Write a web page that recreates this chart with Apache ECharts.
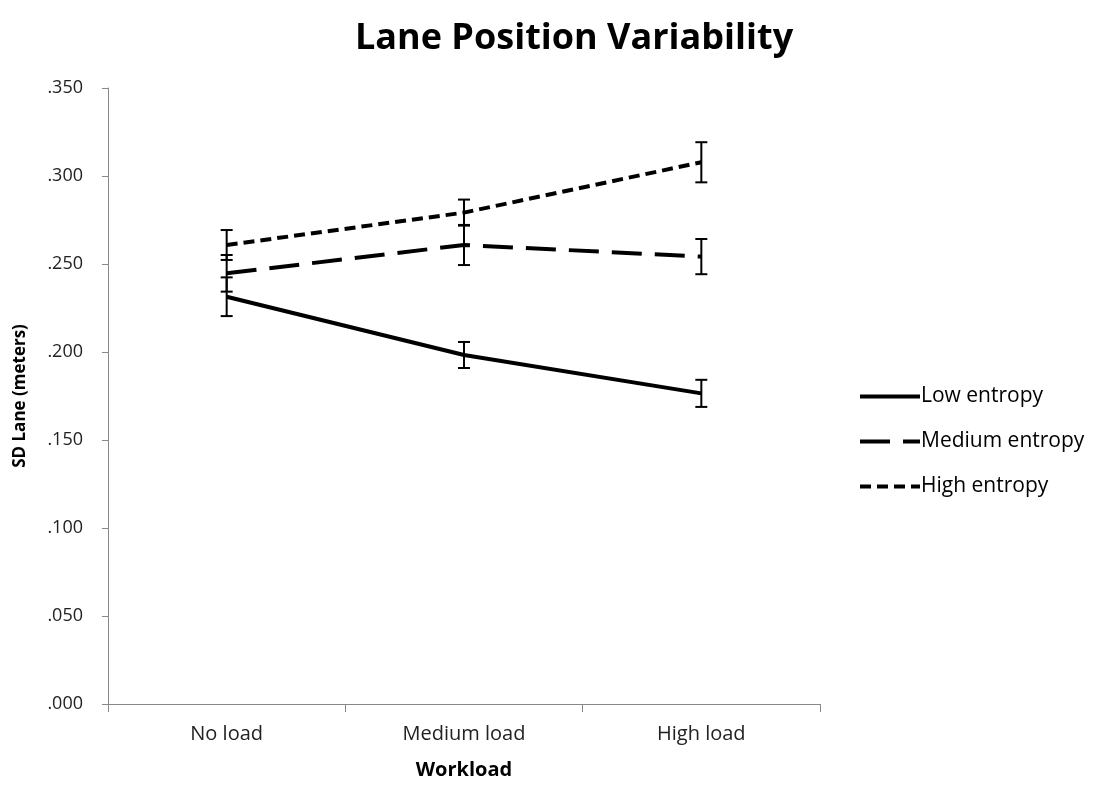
<!DOCTYPE html>
<html><head><meta charset="utf-8">
<script src="https://cdn.jsdelivr.net/npm/echarts@6/dist/echarts.min.js"></script>
<style>html,body{margin:0;padding:0;background:#fff}#c{width:1100px;height:786px}</style>
</head><body><div id="c"></div>
<script>
const categories = ['No load', 'Medium load', 'High load'];
const seriesNames = ['Low entropy', 'Medium entropy', 'High entropy'];
const lowMean = [0.2314, 0.1983, 0.1765];
const lowErr = [0.0110, 0.0074, 0.0077];
const medMean = [0.2447, 0.2608, 0.2542];
const medErr = [0.0104, 0.0114, 0.0100];
const highMean = [0.2608, 0.2792, 0.3078];
const highErr = [0.0085, 0.0074, 0.0114];
const yTicks = [0, 0.05, 0.1, 0.15, 0.2, 0.25, 0.3, 0.35];

const means = [lowMean, medMean, highMean];
const errs = [lowErr, medErr, highErr];
const dashes = ['solid', [30, 13], [11, 6]];
const FONT = 'Open Sans';

const chart = echarts.init(document.getElementById('c'));
const lineSeries = seriesNames.map((n, i) => ({
  name: n, type: 'line', data: means[i], symbol: 'none', showSymbol: false, z: 3,
  lineStyle: { color: '#000', width: 4, type: dashes[i] },
  itemStyle: { color: '#000' }
}));
const errSeries = seriesNames.map((n, i) => ({
  type: 'custom', z: 4, silent: true,
  data: means[i].map((m, j) => [j, m - errs[i][j], m + errs[i][j]]),
  renderItem: function (params, api) {
    const x = api.value(0);
    const lo = api.coord([x, api.value(1)]);
    const hi = api.coord([x, api.value(2)]);
    const w = 6;
    const st = { stroke: '#000', lineWidth: 2 };
    return { type: 'group', children: [
      { type: 'line', shape: { x1: lo[0], y1: lo[1], x2: hi[0], y2: hi[1] }, style: st },
      { type: 'line', shape: { x1: lo[0] - w, y1: lo[1], x2: lo[0] + w, y2: lo[1] }, style: st },
      { type: 'line', shape: { x1: hi[0] - w, y1: hi[1], x2: hi[0] + w, y2: hi[1] }, style: st }
    ]};
  }
}));

chart.setOption({
  animation: false,
  title: { text: 'Lane Position Variability', left: 350, top: 16,
    textStyle: { fontFamily: FONT, fontSize: 36, fontWeight: 'bold', color: '#000' } },
  grid: { left: 108, right: 280, top: 88, bottom: 82, containLabel: false },
  legend: {
    orient: 'vertical', left: 858, top: 386, padding: 0, itemWidth: 60, itemHeight: 17, itemGap: 24,
    data: seriesNames.map((n, i) => ({
      name: n,
      itemStyle: { color: 'transparent', borderWidth: 0, opacity: 0 },
      lineStyle: { color: '#000', width: 4, type: dashes[i], opacity: 1 }
    })),
    textStyle: { fontFamily: FONT, fontSize: 21, color: '#000', padding: [0, 0, 0, -4], lineHeight: 17 }
  },
  xAxis: {
    type: 'category', data: categories, boundaryGap: true,
    name: 'Workload', nameLocation: 'middle', nameGap: 56,
    nameTextStyle: { fontFamily: FONT, fontSize: 20, fontWeight: 'bold', color: '#000' },
    axisLine: { lineStyle: { color: '#888', width: 1 } },
    axisTick: { show: true, length: 8, lineStyle: { color: '#888' } },
    axisLabel: { fontFamily: FONT, fontSize: 20, color: '#222', margin: 20 },
    splitLine: { show: false }
  },
  yAxis: {
    type: 'value', min: 0, max: 0.35, interval: 0.05,
    name: 'SD Lane (meters)', nameLocation: 'middle', nameGap: 79, nameRotate: 90,
    nameTextStyle: { fontFamily: FONT, fontSize: 17, fontWeight: 'bold', color: '#000' },
    axisLine: { show: true, lineStyle: { color: '#888', width: 1 } },
    axisTick: { show: true, length: 6, lineStyle: { color: '#888' } },
    axisLabel: { fontFamily: FONT, fontSize: 18, color: '#222', margin: 25,
      formatter: v => yTicks.some(t => Math.abs(t - v) < 1e-9) ? v.toFixed(3).replace(/^0/, '') : '' },
    splitLine: { show: false }
  },
  series: lineSeries.concat(errSeries)
});
</script></body></html>
